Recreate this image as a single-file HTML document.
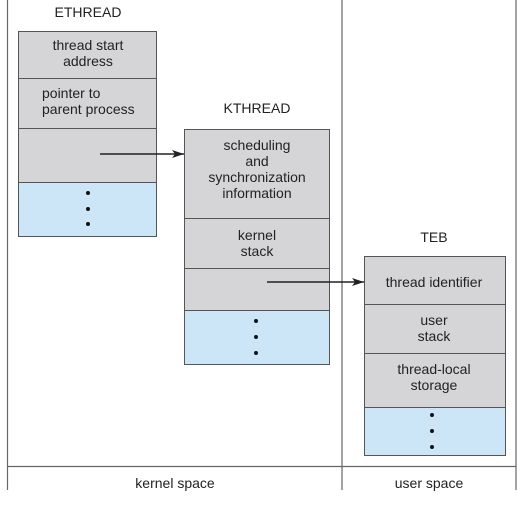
<!DOCTYPE html>
<html><head><meta charset="utf-8"><style>
html,body{margin:0;padding:0;background:#fff;}
svg{display:block;}
text{font-family:"Liberation Sans",sans-serif;font-size:14px;fill:#222;}
</style></head><body>
<svg width="529" height="512" viewBox="0 0 529 512" xmlns="http://www.w3.org/2000/svg">
<defs><marker id="ah" markerWidth="12" markerHeight="8" refX="12" refY="4" orient="auto" markerUnits="userSpaceOnUse"><path d="M0,0 L12,4 L0,8 L3,4 Z" fill="#222"/></marker></defs>
<g stroke="#666" stroke-width="1.2" fill="none">
<line x1="7.5" y1="0" x2="7.5" y2="490"/>
<line x1="342" y1="0" x2="342" y2="490"/>
<line x1="516" y1="0" x2="516" y2="490"/>
<line x1="7" y1="466.5" x2="516" y2="466.5"/>
</g>
<g stroke="#555" stroke-width="1">
<rect x="18.5" y="31.5" width="138" height="151" fill="#d5d5d7"/>
<rect x="18.5" y="182.5" width="138" height="54" fill="#cde6f7"/>
<line x1="18.5" y1="78.5" x2="156.5" y2="78.5"/>
<line x1="18.5" y1="128.5" x2="156.5" y2="128.5"/>
<rect x="184.5" y="129.5" width="145" height="181" fill="#d5d5d7"/>
<rect x="184.5" y="310.5" width="145" height="54" fill="#cde6f7"/>
<line x1="184.5" y1="218.5" x2="329.5" y2="218.5"/>
<line x1="184.5" y1="268.5" x2="329.5" y2="268.5"/>
<rect x="364.5" y="256.5" width="141" height="151" fill="#d5d5d7"/>
<rect x="364.5" y="407.5" width="141" height="48" fill="#cde6f7"/>
<line x1="364.5" y1="304.5" x2="505.5" y2="304.5"/>
<line x1="364.5" y1="353.5" x2="505.5" y2="353.5"/>
</g>
<g fill="#111">
<circle cx="88" cy="193" r="2"/><circle cx="88" cy="209" r="2"/><circle cx="88" cy="224" r="2"/>
<circle cx="256" cy="321" r="2"/><circle cx="256" cy="337" r="2"/><circle cx="256" cy="353" r="2"/>
<circle cx="432" cy="415" r="2"/><circle cx="432" cy="431" r="2"/><circle cx="432" cy="447" r="2"/>
</g>
<line x1="100" y1="154" x2="184" y2="154" stroke="#222" stroke-width="1.5" marker-end="url(#ah)"/>
<line x1="267" y1="282" x2="364" y2="282" stroke="#222" stroke-width="1.5" marker-end="url(#ah)"/>
<g text-anchor="middle">
<text x="88" y="17">ETHREAD</text>
<text x="88" y="50">thread start</text>
<text x="88" y="66">address</text>
<text x="257" y="113">KTHREAD</text>
<text x="257" y="150">scheduling</text>
<text x="257" y="166">and</text>
<text x="257" y="182">synchronization</text>
<text x="257" y="198">information</text>
<text x="257" y="240">kernel</text>
<text x="257" y="256">stack</text>
<text x="434" y="242">TEB</text>
<text x="434" y="287">thread identifier</text>
<text x="434" y="325">user</text>
<text x="434" y="341">stack</text>
<text x="434" y="374">thread-local</text>
<text x="434" y="390">storage</text>
<text x="175" y="488">kernel space</text>
<text x="429" y="488">user space</text>
</g>
<text x="42" y="98">pointer to</text>
<text x="42" y="114">parent process</text>
</svg>
</body></html>
